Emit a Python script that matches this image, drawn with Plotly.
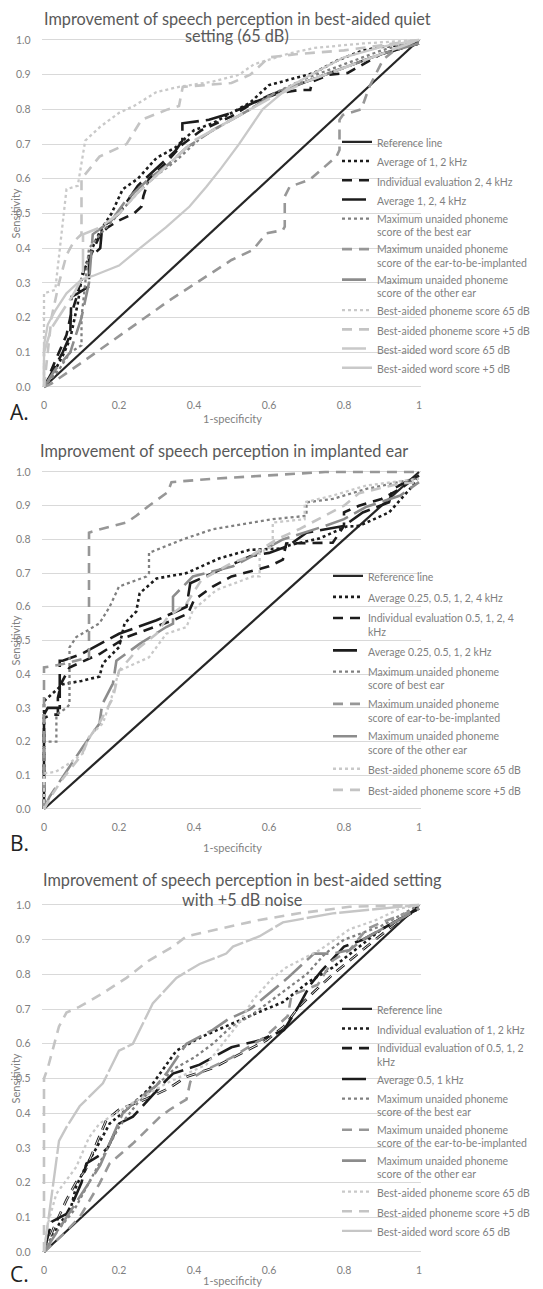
import plotly.graph_objects as go

# ---------------- Panel A data ----------------
a_ref_x = [0, 1]
a_ref_y = [0, 1]
a_avg12_x = [0, 0.02, 0.05, 0.07, 0.09, 0.1, 0.12, 0.15, 0.18, 0.21, 0.25, 0.3, 0.35, 0.4, 0.45, 0.5, 0.55, 0.6, 0.65, 0.72, 0.78, 0.85, 0.9, 1]
a_avg12_y = [0, 0.03, 0.09, 0.14, 0.24, 0.31, 0.38, 0.45, 0.5, 0.57, 0.6, 0.66, 0.69, 0.74, 0.76, 0.79, 0.82, 0.87, 0.885, 0.905, 0.94, 0.97, 0.98, 0.99]
a_ind24_x = [0, 0.01, 0.02, 0.04, 0.06, 0.07, 0.09, 0.1, 0.12, 0.15, 0.17, 0.2, 0.24, 0.26, 0.265, 0.28, 0.32, 0.37, 0.42, 0.5, 0.56, 0.62, 0.68, 0.71, 0.715, 0.76, 0.81, 0.9, 1]
a_ind24_y = [0, 0.02, 0.05, 0.1, 0.15, 0.2, 0.27, 0.32, 0.37, 0.44, 0.46, 0.48, 0.5, 0.52, 0.55, 0.6, 0.64, 0.7, 0.74, 0.78, 0.82, 0.845, 0.856, 0.856, 0.88, 0.9, 0.905, 0.96, 0.99]
a_avg124_x = [0, 0.02, 0.05, 0.07, 0.073, 0.09, 0.12, 0.12, 0.15, 0.155, 0.2, 0.25, 0.3, 0.35, 0.369, 0.369, 0.44, 0.5, 0.6, 0.7, 0.8, 0.9, 1]
a_avg124_y = [0, 0.04, 0.1, 0.15, 0.26, 0.27, 0.29, 0.37, 0.4, 0.46, 0.5, 0.58, 0.63, 0.68, 0.71, 0.76, 0.77, 0.79, 0.84, 0.88, 0.92, 0.96, 0.99]
a_best_x = [0, 0.04, 0.07, 0.1, 0.1, 0.11, 0.12, 0.15, 0.2, 0.25, 0.3, 0.35, 0.38, 0.42, 0.5, 0.55, 0.6, 0.7, 0.8, 0.9, 1]
a_best_y = [0, 0.05, 0.1, 0.12, 0.2, 0.3, 0.4, 0.44, 0.5, 0.56, 0.61, 0.65, 0.68, 0.72, 0.77, 0.8, 0.84, 0.89, 0.93, 0.97, 1]
a_ear_x = [0, 0.02, 0.1, 0.21, 0.335, 0.5, 0.557, 0.593, 0.637, 0.642, 0.642, 0.655, 0.708, 0.78, 0.788, 0.788, 0.797, 0.846, 0.868, 0.904, 0.948, 1]
a_ear_y = [0, 0.01, 0.07, 0.154, 0.25, 0.366, 0.395, 0.443, 0.452, 0.462, 0.549, 0.577, 0.597, 0.664, 0.683, 0.77, 0.784, 0.8, 0.866, 0.943, 0.982, 0.99]
a_other_x = [0, 0.03, 0.07, 0.1, 0.12, 0.13, 0.18, 0.22, 0.28, 0.33, 0.38, 0.45, 0.55, 0.62, 0.7, 0.8, 0.9, 1]
a_other_y = [0, 0.05, 0.1, 0.2, 0.3, 0.44, 0.48, 0.54, 0.6, 0.64, 0.69, 0.74, 0.8, 0.85, 0.88, 0.92, 0.96, 0.99]
a_ph65_x = [0, 0, 0.03, 0.04, 0.06, 0.09, 0.11, 0.15, 0.2, 0.24, 0.3, 0.36, 0.45, 0.52, 0.56, 0.65, 0.72, 0.85, 1]
a_ph65_y = [0, 0.27, 0.28, 0.38, 0.57, 0.58, 0.71, 0.75, 0.79, 0.81, 0.85, 0.865, 0.88, 0.9, 0.93, 0.96, 0.977, 0.99, 1]
a_ph5_x = [0, 0.01, 0.02, 0.04, 0.06, 0.08, 0.1, 0.1, 0.148, 0.22, 0.26, 0.33, 0.36, 0.37, 0.5, 0.55, 0.6, 0.68, 0.8, 0.9, 1]
a_ph5_y = [0, 0.1, 0.2, 0.3, 0.38, 0.42, 0.44, 0.6, 0.664, 0.7, 0.77, 0.8, 0.81, 0.865, 0.876, 0.9, 0.95, 0.96, 0.97, 0.985, 1]
a_w65_x = [0, 0, 0.02, 0.05, 0.08, 0.104, 0.104, 0.15, 0.2, 0.25, 0.3, 0.35, 0.4, 0.5, 0.6, 0.7, 0.8, 0.9, 1]
a_w65_y = [0, 0.1, 0.17, 0.22, 0.27, 0.32, 0.44, 0.46, 0.5, 0.56, 0.61, 0.66, 0.71, 0.77, 0.83, 0.88, 0.92, 0.96, 1]
a_w5_x = [0, 0, 0.01, 0.03, 0.06, 0.1, 0.13, 0.2, 0.256, 0.325, 0.388, 0.433, 0.472, 0.52, 0.583, 0.654, 0.72, 0.8, 0.9, 1]
a_w5_y = [0, 0.12, 0.18, 0.22, 0.27, 0.31, 0.32, 0.35, 0.4, 0.46, 0.52, 0.577, 0.63, 0.7, 0.8, 0.865, 0.905, 0.95, 0.98, 1]

# ---------------- Panel B data ----------------
b_ref_x = [0, 1]
b_ref_y = [0, 1]
b_avg_x = [0, 0, 0.02, 0.05, 0.1, 0.148, 0.157, 0.2, 0.215, 0.246, 0.255, 0.3, 0.38, 0.468, 0.548, 0.637, 0.655, 0.735, 0.806, 0.84, 0.92, 0.984, 1]
b_avg_y = [0, 0.32, 0.34, 0.37, 0.38, 0.393, 0.432, 0.48, 0.551, 0.586, 0.64, 0.684, 0.7, 0.744, 0.769, 0.773, 0.783, 0.803, 0.838, 0.84, 0.88, 0.96, 0.99]
b_ind_x = [0, 0, 0.02, 0.037, 0.037, 0.046, 0.068, 0.148, 0.22, 0.344, 0.384, 0.4, 0.45, 0.5, 0.6, 0.637, 0.646, 0.71, 0.77, 0.8, 0.8, 0.84, 0.9, 0.95, 1]
b_ind_y = [0, 0.27, 0.28, 0.28, 0.33, 0.373, 0.42, 0.46, 0.51, 0.56, 0.58, 0.62, 0.66, 0.69, 0.72, 0.74, 0.788, 0.79, 0.79, 0.84, 0.88, 0.9, 0.92, 0.95, 0.99]
b_avg4_x = [0, 0, 0.01, 0.042, 0.042, 0.05, 0.1, 0.15, 0.2, 0.3, 0.38, 0.39, 0.45, 0.55, 0.6, 0.65, 0.7, 0.8, 0.85, 0.92, 0.93, 1]
b_avg4_y = [0, 0.28, 0.3, 0.3, 0.44, 0.44, 0.46, 0.49, 0.52, 0.56, 0.6, 0.67, 0.7, 0.75, 0.76, 0.78, 0.82, 0.84, 0.88, 0.91, 0.95, 0.99]
b_best_x = [0, 0, 0.033, 0.033, 0.06, 0.068, 0.068, 0.086, 0.148, 0.175, 0.2, 0.273, 0.28, 0.28, 0.37, 0.45, 0.61, 0.7, 0.7, 0.77, 0.86, 0.99, 1]
b_best_y = [0, 0.2, 0.2, 0.28, 0.3, 0.31, 0.48, 0.51, 0.551, 0.6, 0.66, 0.69, 0.7, 0.76, 0.8, 0.83, 0.86, 0.87, 0.91, 0.92, 0.95, 0.98, 0.98]
b_ear_x = [0, 0, 0.05, 0.12, 0.12, 0.15, 0.22, 0.246, 0.28, 0.33, 0.34, 0.45, 0.6, 0.75, 1]
b_ear_y = [0, 0.42, 0.43, 0.45, 0.82, 0.83, 0.85, 0.87, 0.9, 0.94, 0.97, 0.98, 0.99, 1, 1]
b_other_x = [0, 0.015, 0.104, 0.148, 0.155, 0.184, 0.193, 0.255, 0.326, 0.344, 0.344, 0.397, 0.504, 0.637, 0.744, 0.8, 0.86, 0.95, 1]
b_other_y = [0, 0.037, 0.185, 0.254, 0.31, 0.373, 0.44, 0.49, 0.54, 0.55, 0.63, 0.69, 0.72, 0.8, 0.838, 0.86, 0.897, 0.93, 0.97]
b_ph65_x = [0, 0, 0.03, 0.06, 0.104, 0.12, 0.157, 0.18, 0.2, 0.28, 0.326, 0.38, 0.397, 0.46, 0.557, 0.575, 0.575, 0.61, 0.61, 0.695, 0.695, 0.77, 0.86, 1]
b_ph65_y = [0, 0.106, 0.11, 0.13, 0.165, 0.215, 0.254, 0.33, 0.41, 0.45, 0.52, 0.54, 0.59, 0.65, 0.69, 0.69, 0.76, 0.78, 0.85, 0.86, 0.91, 0.93, 0.96, 0.98]
b_ph5_x = [0, 0.02, 0.05, 0.1, 0.12, 0.15, 0.184, 0.2, 0.255, 0.3, 0.33, 0.38, 0.42, 0.5, 0.55, 0.62, 0.68, 0.73, 0.8, 0.84, 0.95, 1]
b_ph5_y = [0, 0.04, 0.09, 0.16, 0.21, 0.26, 0.33, 0.41, 0.48, 0.52, 0.57, 0.61, 0.68, 0.73, 0.75, 0.8, 0.83, 0.86, 0.9, 0.937, 0.966, 0.97]

# ---------------- Panel C data ----------------
c_ref_x = [0, 1]
c_ref_y = [0, 1]
c_ind12_x = [0, 0.02, 0.04, 0.07, 0.086, 0.113, 0.14, 0.175, 0.22, 0.28, 0.353, 0.42, 0.504, 0.57, 0.637, 0.708, 0.77, 0.84, 0.9, 0.95, 1]
c_ind12_y = [0, 0.04, 0.08, 0.12, 0.19, 0.25, 0.3, 0.37, 0.41, 0.47, 0.58, 0.62, 0.66, 0.69, 0.72, 0.78, 0.82, 0.88, 0.93, 0.96, 0.99]
c_ind052_x = [0, 0.03, 0.06, 0.085, 0.11, 0.14, 0.166, 0.2, 0.27, 0.33, 0.38, 0.45, 0.504, 0.593, 0.64, 0.68, 0.72, 0.77, 0.86, 0.95, 1]
c_ind052_y = [0, 0.08, 0.15, 0.2, 0.235, 0.31, 0.38, 0.41, 0.44, 0.47, 0.505, 0.53, 0.56, 0.61, 0.65, 0.707, 0.75, 0.8, 0.88, 0.957, 0.99]
c_avg051_x = [0, 0.02, 0.06, 0.08, 0.1, 0.113, 0.15, 0.17, 0.2, 0.237, 0.326, 0.344, 0.415, 0.486, 0.5, 0.575, 0.64, 0.68, 0.71, 0.74, 0.8, 0.85, 0.9, 0.95, 1]
c_avg051_y = [0, 0.087, 0.11, 0.15, 0.2, 0.255, 0.28, 0.3, 0.37, 0.39, 0.495, 0.514, 0.54, 0.58, 0.59, 0.61, 0.64, 0.71, 0.77, 0.81, 0.88, 0.9, 0.93, 0.96, 0.99]
c_best_x = [0, 0.02, 0.05, 0.08, 0.1, 0.15, 0.2, 0.25, 0.3, 0.35, 0.4, 0.45, 0.5, 0.55, 0.6, 0.65, 0.7, 0.75, 0.8, 0.85, 0.9, 0.95, 1]
c_best_y = [0, 0.04, 0.08, 0.12, 0.16, 0.26, 0.36, 0.43, 0.48, 0.53, 0.56, 0.6, 0.65, 0.68, 0.72, 0.76, 0.8, 0.86, 0.9, 0.92, 0.94, 0.97, 1]
c_ear_x = [0, 0.05, 0.095, 0.148, 0.175, 0.237, 0.31, 0.335, 0.38, 0.39, 0.4, 0.43, 0.5, 0.59, 0.65, 0.66, 0.73, 0.77, 0.815, 0.86, 0.9, 0.95, 1]
c_ear_y = [0, 0.05, 0.1, 0.197, 0.255, 0.3125, 0.39, 0.41, 0.44, 0.49, 0.505, 0.524, 0.56, 0.62, 0.68, 0.74, 0.77, 0.84, 0.87, 0.93, 0.95, 0.97, 0.99]
c_other_x = [0, 0.03, 0.06, 0.09, 0.12, 0.15, 0.17, 0.19, 0.21, 0.25, 0.3, 0.33, 0.38, 0.45, 0.49, 0.55, 0.59, 0.65, 0.7, 0.72, 0.77, 0.815, 0.85, 0.9, 0.95, 1]
c_other_y = [0, 0.05, 0.1, 0.15, 0.2, 0.25, 0.3, 0.35, 0.4, 0.44, 0.48, 0.52, 0.6, 0.64, 0.67, 0.7, 0.735, 0.79, 0.84, 0.86, 0.86, 0.87, 0.9, 0.93, 0.96, 0.99]
c_ph65_x = [0, 0.01, 0.033, 0.086, 0.12, 0.148, 0.237, 0.326, 0.433, 0.52, 0.557, 0.61, 0.646, 0.735, 0.815, 0.886, 0.95, 1]
c_ph65_y = [0, 0.08, 0.168, 0.245, 0.33, 0.37, 0.43, 0.486, 0.54, 0.66, 0.726, 0.79, 0.82, 0.87, 0.93, 0.957, 0.99, 1]
c_ph5_x = [0, 0, 0.01, 0.024, 0.04, 0.06, 0.095, 0.148, 0.22, 0.28, 0.344, 0.38, 0.46, 0.575, 0.68, 0.815, 1]
c_ph5_y = [0, 0.5, 0.53, 0.59, 0.65, 0.69, 0.707, 0.74, 0.79, 0.84, 0.88, 0.91, 0.93, 0.957, 0.976, 0.995, 1]
c_w65_x = [0, 0.01, 0.02, 0.03, 0.04, 0.06, 0.095, 0.157, 0.2, 0.237, 0.29, 0.353, 0.415, 0.486, 0.504, 0.575, 0.637, 0.77, 0.9, 1]
c_w65_y = [0, 0.08, 0.17, 0.25, 0.32, 0.36, 0.42, 0.486, 0.58, 0.6, 0.716, 0.79, 0.83, 0.86, 0.88, 0.91, 0.95, 0.976, 0.99, 1]

# ---------------- tick labels / texts ----------------
x_tickvals = [0, 0.2, 0.4, 0.6, 0.8, 1]
x_ticktext = ["0", "0.2", "0.4", "0.6", "0.8", "1"]
title_lines = [
    ["Improvement of speech perception in best-aided quiet", "setting (65 dB)"],
    ["Improvement of speech perception in implanted ear"],
    ["Improvement of speech perception in best-aided setting", "with +5 dB noise"],
]
panel_labels = ["A.", "B.", "C."]

# ---------------- styles ----------------
FONT = "Lato, 'Open Sans', sans-serif"
BLACK = "#1c1c1c"
STY = {
    "ref": dict(color="#262626", width=2.25, dash="solid"),
    "k_dot": dict(color=BLACK, width=2.6, dash="dot"),
    "k_dash": dict(color=BLACK, width=2.6, dash="10px,7px"),
    "k_long": dict(color=BLACK, width=2.6, dash="24px,7px"),
    "g_dot": dict(color="#808080", width=2.3, dash="dot"),
    "g_dash": dict(color="#979797", width=2.6, dash="10px,7px"),
    "g_long": dict(color="#8c8c8c", width=2.6, dash="24px,7px"),
    "l_dot": dict(color="#c9c9c9", width=2.3, dash="dot"),
    "l_dash": dict(color="#c4c4c4", width=2.6, dash="10px,7px"),
    "l_long": dict(color="#c9c9c9", width=2.6, dash="24px,7px"),
    "l_solid": dict(color="#c9c9c9", width=2.3, dash="solid"),
    "l_solid2": dict(color="#c6c6c6", width=2.4, dash="30px,3px"),
}

# The page body has an 8 px margin, so all reference pixel positions are
# shifted by OFF inside the figure.
OFF = 8
W, H = 543 - OFF, 1289 - OFF
X0, X1 = 44 - OFF, 419 - OFF   # pixel positions of x = 0 and x = 1
PAD = 0.006
panels = [  # reference pixel y of value 1.0 and 0.0
    dict(top=40, bot=387),
    dict(top=472, bot=809),
    dict(top=905, bot=1252),
]

fig = go.Figure()
counter = [0]

def add(panel, x, y, name, sty, show=True, group=None):
    idx = "" if panel == 0 else str(panel + 1)
    if group is None:
        counter[0] += 1
        group = "g%d" % counter[0]
    fig.add_trace(go.Scatter(
        x=x, y=y, mode="lines", name=name, line=STY[sty],
        xaxis="x" + idx, yaxis="y" + idx, legendgroup=group,
        legend="legend" + idx, showlegend=show, hoverinfo="skip",
    ))
    return group

# Panel A
add(0, a_ref_x, a_ref_y, "Reference line", "ref")
add(0, a_avg12_x, a_avg12_y, "Average of 1, 2 kHz", "k_dot")
add(0, a_ind24_x, a_ind24_y, "Individual evaluation 2, 4 kHz", "k_dash")
add(0, a_avg124_x, a_avg124_y, "Average 1, 2, 4 kHz", "k_long")
add(0, a_best_x, a_best_y, "Maximum unaided phoneme<br>score of the best ear", "g_dot")
add(0, a_ear_x, a_ear_y, "Maximum unaided phoneme<br>score of the ear-to-be-implanted", "g_dash")
add(0, a_other_x, a_other_y, "Maximum unaided phoneme<br>score of the other ear", "g_long")
add(0, a_ph65_x, a_ph65_y, "Best-aided phoneme score 65 dB", "l_dot")
add(0, a_ph5_x, a_ph5_y, "Best-aided phoneme score +5 dB", "l_dash")
add(0, a_w65_x, a_w65_y, "Best-aided word score 65 dB", "l_long")
add(0, a_w5_x, a_w5_y, "Best-aided word score +5 dB", "l_solid")

# Panel B
add(1, b_ref_x, b_ref_y, "Reference line", "ref")
add(1, b_avg_x, b_avg_y, "Average 0.25, 0.5, 1, 2, 4 kHz", "k_dot")
add(1, b_ind_x, b_ind_y, "Individual evaluation 0.5, 1, 2, 4<br>kHz", "k_dash")
add(1, b_avg4_x, b_avg4_y, "Average 0.25, 0.5, 1, 2 kHz", "k_long")
add(1, b_best_x, b_best_y, "Maximum unaided phoneme<br>score of best ear", "g_dot")
add(1, b_ear_x, b_ear_y, "Maximum unaided phoneme<br>score of ear-to-be-implanted", "g_dash")
add(1, b_other_x, b_other_y, "Maximum unaided phoneme<br>score of the other ear", "g_long")
add(1, b_ph65_x, b_ph65_y, "Best-aided phoneme score 65 dB", "l_dot")
add(1, b_ph5_x, b_ph5_y, "Best-aided phoneme score +5 dB", "l_dash")

# Panel C
add(2, c_ref_x, c_ref_y, "Reference line", "ref")
add(2, c_ind12_x, c_ind12_y, "Individual evaluation of 1, 2 kHz", "k_dot")
g_dbl = add(2, c_ind052_x, c_ind052_y, "Individual evaluation of 0.5, 1, 2<br>kHz", "k_dash")
fig.add_trace(go.Scatter(  # inner white stroke -> double line look
    x=c_ind052_x, y=c_ind052_y, mode="lines",
    line=dict(color="white", width=0.9, dash="10px,7px"),
    xaxis="x3", yaxis="y3", legend="legend3", legendgroup=g_dbl,
    showlegend=False, hoverinfo="skip"))
add(2, c_avg051_x, c_avg051_y, "Average 0.5, 1 kHz", "k_long")
add(2, c_best_x, c_best_y, "Maximum unaided phoneme<br>score of the best ear", "g_dot")
add(2, c_ear_x, c_ear_y, "Maximum unaided phoneme<br>score of the ear-to-be-implanted", "g_dash")
add(2, c_other_x, c_other_y, "Maximum unaided phoneme<br>score of the other ear", "g_long")
add(2, c_ph65_x, c_ph65_y, "Best-aided phoneme score 65 dB", "l_dot")
add(2, c_ph5_x, c_ph5_y, "Best-aided phoneme score +5 dB", "l_dash")
add(2, c_w65_x, c_w65_y, "Best-aided word score 65 dB", "l_solid2")

tickfont = dict(family=FONT, size=10.5, color="#808080")
layout = dict(
    width=W, height=H, template="none",
    paper_bgcolor="white", plot_bgcolor="white",
    margin=dict(l=0, r=0, t=0, b=0, autoexpand=False),
    font=dict(family=FONT, color="#7f7f7f"),
    annotations=[],
)

def px(v):   # reference x pixel -> paper x
    return (v - OFF) / W

def py(v):   # reference y pixel -> paper y
    return 1 - (v - OFF) / H

xw = X1 - X0
legend_pos = [(337, 143), (328, 577), (337, 1010)]
legend_gap = [0.2, 2.1, 0.65]
title_pos = [(237, [18.5, 35.5]), (224, [451]), (242, [879, 899.5])]
xt_pos = [418, 848, 1280]
lab_pos = [412, 843, 1274]

for i, p in enumerate(panels):
    idx = "" if i == 0 else str(i + 1)
    h = p["bot"] - p["top"]
    xdom = [(X0 - PAD * xw) / W, (X1 + PAD * xw) / W]
    ydom = [py(p["bot"] + PAD * h), py(p["top"] - PAD * h)]
    layout["xaxis" + idx] = dict(
        domain=xdom, range=[-PAD, 1 + PAD], anchor="y" + idx,
        tickvals=x_tickvals, ticktext=x_ticktext, showgrid=False,
        zeroline=False, showline=False, ticks="outside", ticklen=6,
        tickcolor="rgba(0,0,0,0)", tickfont=tickfont, fixedrange=True,
    )
    layout["yaxis" + idx] = dict(
        domain=ydom, range=[-PAD, 1 + PAD], anchor="x" + idx,
        tick0=0, dtick=0.1, tickformat=".1f", showgrid=True,
        gridcolor="#d9d9d9", gridwidth=1, zeroline=False, showline=False,
        ticks="outside", ticklen=8, tickcolor="rgba(0,0,0,0)",
        tickfont=tickfont, fixedrange=True,
    )
    lx, ly = legend_pos[i]
    layout["legend" + idx] = dict(
        x=px(lx), y=py(ly - 14.5), xanchor="left", yanchor="top",
        bgcolor="rgba(0,0,0,0)", borderwidth=0, valign="top",
        font=dict(family=FONT, size=10.5, color="#7f7f7f"),
        itemwidth=30, tracegroupgap=legend_gap[i], traceorder="grouped",
    )
    tx, tys = title_pos[i]
    for line, ty in zip(title_lines[i], tys):
        layout["annotations"].append(dict(
            text=line, x=px(tx), y=py(ty), xref="paper", yref="paper",
            xanchor="center", yanchor="middle", showarrow=False,
            font=dict(family=FONT, size=16.3, color="#595959")))
    layout["annotations"].append(dict(
        text="Sensitivity", x=px(15), y=py((p["top"] + p["bot"]) / 2),
        xref="paper", yref="paper", xanchor="center", yanchor="middle",
        textangle=-90, showarrow=False,
        font=dict(family=FONT, size=11, color="#7f7f7f")))
    layout["annotations"].append(dict(
        text="1-specificity", x=px(232), y=py(xt_pos[i]),
        xref="paper", yref="paper", xanchor="center", yanchor="middle",
        showarrow=False, font=dict(family=FONT, size=11, color="#7f7f7f")))
    layout["annotations"].append(dict(
        text=panel_labels[i], x=px(8), y=py(lab_pos[i]),
        xref="paper", yref="paper", xanchor="left", yanchor="middle",
        showarrow=False, font=dict(family="'Open Sans', sans-serif", size=21, color="#222222")))

fig.update_layout(**layout)
fig.write_html("out.html")
